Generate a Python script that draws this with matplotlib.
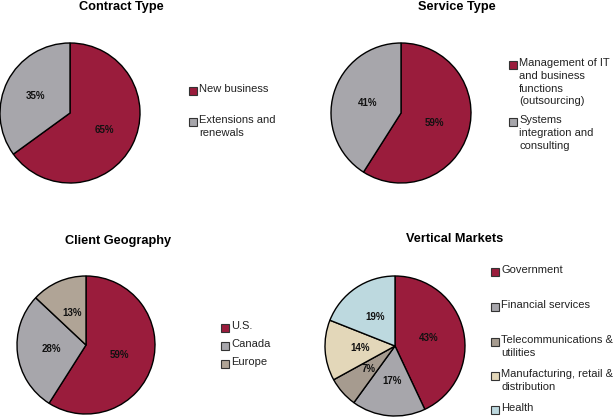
import matplotlib
matplotlib.use('Agg')
import matplotlib.pyplot as plt
from matplotlib.patches import Rectangle

plt.rcParams['font.family'] = ['Liberation Sans', 'DejaVu Sans']

W, H = 614, 417

# data
contract_labels = ['New business', 'Extensions and\nrenewals']
contract_values = [65, 35]

service_labels = ['Management of IT\nand business\nfunctions\n(outsourcing)',
                  'Systems\nintegration and\nconsulting']
service_values = [59, 41]

geo_labels = ['U.S.', 'Canada', 'Europe']
geo_values = [59, 28, 13]

vertical_labels = ['Government', 'Financial services', 'Telecommunications &\nutilities',
                   'Manufacturing, retail &\ndistribution', 'Health']
vertical_values = [43, 17, 7, 14, 19]

maroon = '#9a1c3c'
grey = '#a7a6ab'
contract_colors = [maroon, grey]
service_colors = [maroon, grey]
geo_colors = [maroon, grey, '#b0a496']
vertical_colors = [maroon, grey, '#a69b8f', '#e3d7b9', '#bdd9df']

fig = plt.figure(figsize=(W / 100, H / 100), dpi=100)


def fx(x):
    return x / W


def fy(y):
    return 1 - y / H


def draw_pie(cx, cy, r, values, colors, pctdist):
    pad = 1.03
    ax = fig.add_axes([fx(cx - r * pad), fy(cy + r * pad), 2 * r * pad / W, 2 * r * pad / H])
    ax.pie(values, colors=colors, startangle=90, counterclock=False,
           autopct=lambda p: '%d%%' % round(p), pctdistance=pctdist,
           wedgeprops=dict(edgecolor='black', linewidth=1.0),
           textprops=dict(fontsize=7, fontweight='bold', color='#111111'))
    ax.set_xlim(-pad, pad)
    ax.set_ylim(-pad, pad)
    ax.set_aspect('equal')
    return ax


def draw_legend(x, ys, labels, colors):
    for y, lab, c in zip(ys, labels, colors):
        fig.patches.append(Rectangle((fx(x), fy(y + 4)), 8 / W, 8 / H, transform=fig.transFigure,
                                     facecolor=c, edgecolor='#333333', linewidth=0.8))
        fig.text(fx(x + 10), fy(y - 7), lab, fontsize=8, va='top', ha='left',
                 color='#222222', linespacing=1.35)


draw_pie(70, 113, 70, contract_values, contract_colors, 0.55)
draw_pie(401, 113, 70, service_values, service_colors, 0.5)
draw_pie(86, 345, 69, geo_values, geo_colors, 0.5)
draw_pie(395, 346, 70, vertical_values, vertical_colors, 0.5)

fig.text(fx(121), fy(7), 'Contract Type', fontsize=9.2, fontweight='bold', ha='center', va='center')
fig.text(fx(457), fy(7), 'Service Type', fontsize=9.2, fontweight='bold', ha='center', va='center')
fig.text(fx(118), fy(241), 'Client Geography', fontsize=9.2, fontweight='bold', ha='center', va='center')
fig.text(fx(455), fy(239), 'Vertical Markets', fontsize=9.2, fontweight='bold', ha='center', va='center')

draw_legend(189, [91, 122], contract_labels, contract_colors)
draw_legend(509, [65, 122], service_labels, service_colors)
draw_legend(221, [328, 346, 364], geo_labels, geo_colors)
draw_legend(491, [272, 307, 342, 376, 410], vertical_labels, vertical_colors)

fig.savefig('out.png', dpi=100)
